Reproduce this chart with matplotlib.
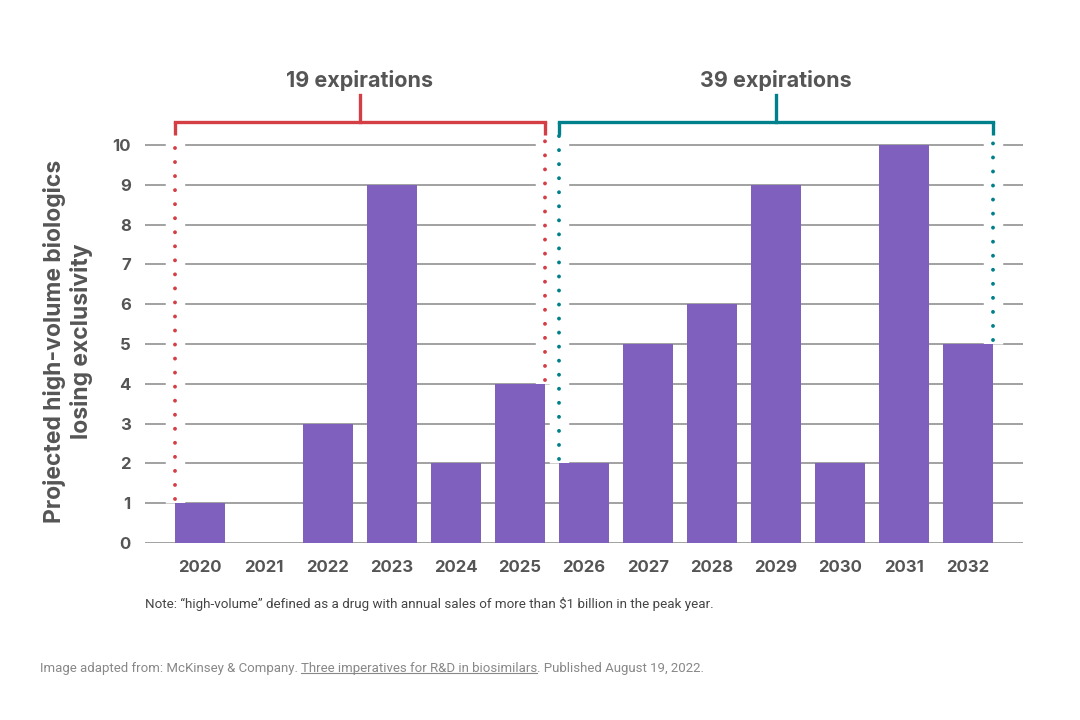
import matplotlib.pyplot as plt
from matplotlib.lines import Line2D

years = ["2020", "2021", "2022", "2023", "2024", "2025", "2026",
         "2027", "2028", "2029", "2030", "2031", "2032"]
counts = [1, 0, 3, 9, 2, 4, 2, 5, 6, 9, 2, 10, 5]
groups = [("19 expirations", 0, 5, "#d43f46"), ("39 expirations", 6, 12, "#00808a")]
yticks = list(range(0, 11))

purple = "#7f60bf"
grid_c = "#9a9a9a"
text_c = "#555555"
w = 0.78

plt.rcParams["font.family"] = ["Inter", "DejaVu Sans"]

fig = plt.figure(figsize=(10.8, 7.2), dpi=100)
ax = fig.add_axes([0.134, 0.246, 0.813, 0.663])
x = list(range(len(years)))

for y in yticks:
    ax.axhline(y, color=grid_c, lw=1.3, zorder=0)
ax.bar(x, counts, width=w, color=purple, zorder=3)

for label, a, b, col in groups:
    xl, xr = a - w / 2, b + w / 2
    top = 10.58
    for xe, h in [(xl, counts[a]), (xr, counts[b])]:
        ax.plot([xe, xe], [h, 10.3], color="white", lw=14, zorder=1,
                solid_capstyle="butt")
        ax.plot([xe, xe], [h + 0.1, 10.25], color=col, lw=2.8,
                linestyle=(0, (0.01, 3.6)), dash_capstyle="round", zorder=4)
        ax.plot([xe, xe], [10.25, top], color=col, lw=2.4, zorder=4,
                solid_capstyle="butt", clip_on=False)
    ax.plot([xl, xr], [top, top], color=col, lw=2.4, zorder=4, clip_on=False,
            solid_capstyle="projecting")
    xm = (xl + xr) / 2
    ax.plot([xm, xm], [top, 11.27], color=col, lw=2.4, zorder=4, clip_on=False)
    ax.text(xm, 11.62, label, ha="center", va="center", fontsize=15.5,
            fontweight="bold", color=text_c)

ax.set_xlim(-0.86, 12.86)
ax.set_ylim(0, 12)
ax.set_xticks(x)
ax.set_xticklabels(years)
ax.set_yticks(yticks)
ax.tick_params(length=0, labelsize=12, colors=text_c)
ax.tick_params(axis="x", pad=12)
ax.tick_params(axis="y", pad=10)
for t in ax.get_xticklabels() + ax.get_yticklabels():
    t.set_fontweight("bold")
for s in ax.spines.values():
    s.set_visible(False)

fig.text(0.063, 0.526, "Projected high-volume biologics\nlosing exclusivity",
         rotation=90, ha="center", va="center", fontsize=16.5,
         fontweight="bold", color=text_c, linespacing=1.2)

narrow = ["Roboto", "DejaVu Sans"]
fig.text(0.134, 0.161, "Note: \u201chigh-volume\u201d defined as a drug with annual sales of more than $1 billion in the peak year.",
         fontsize=9.6, color="#444444", family=narrow, va="center")

# source line with underlined title
parts = ["Image adapted from: McKinsey & Company. ",
         "Three imperatives for R&D in biosimilars",
         ". Published August 19, 2022."]
fig.canvas.draw()
r = fig.canvas.get_renderer()
xpos = 0.037
ypos = 0.072
for i, p in enumerate(parts):
    t = fig.text(xpos, ypos, p, fontsize=9.5, color="#888888", family=narrow,
                 va="center")
    bb = t.get_window_extent(r).transformed(fig.transFigure.inverted())
    if i == 1:
        fig.add_artist(Line2D([bb.x0, bb.x1], [bb.y0 + 0.002, bb.y0 + 0.002],
                              color="#888888", lw=0.8,
                              transform=fig.transFigure))
    xpos = bb.x1

fig.savefig("out.png", dpi=100)
